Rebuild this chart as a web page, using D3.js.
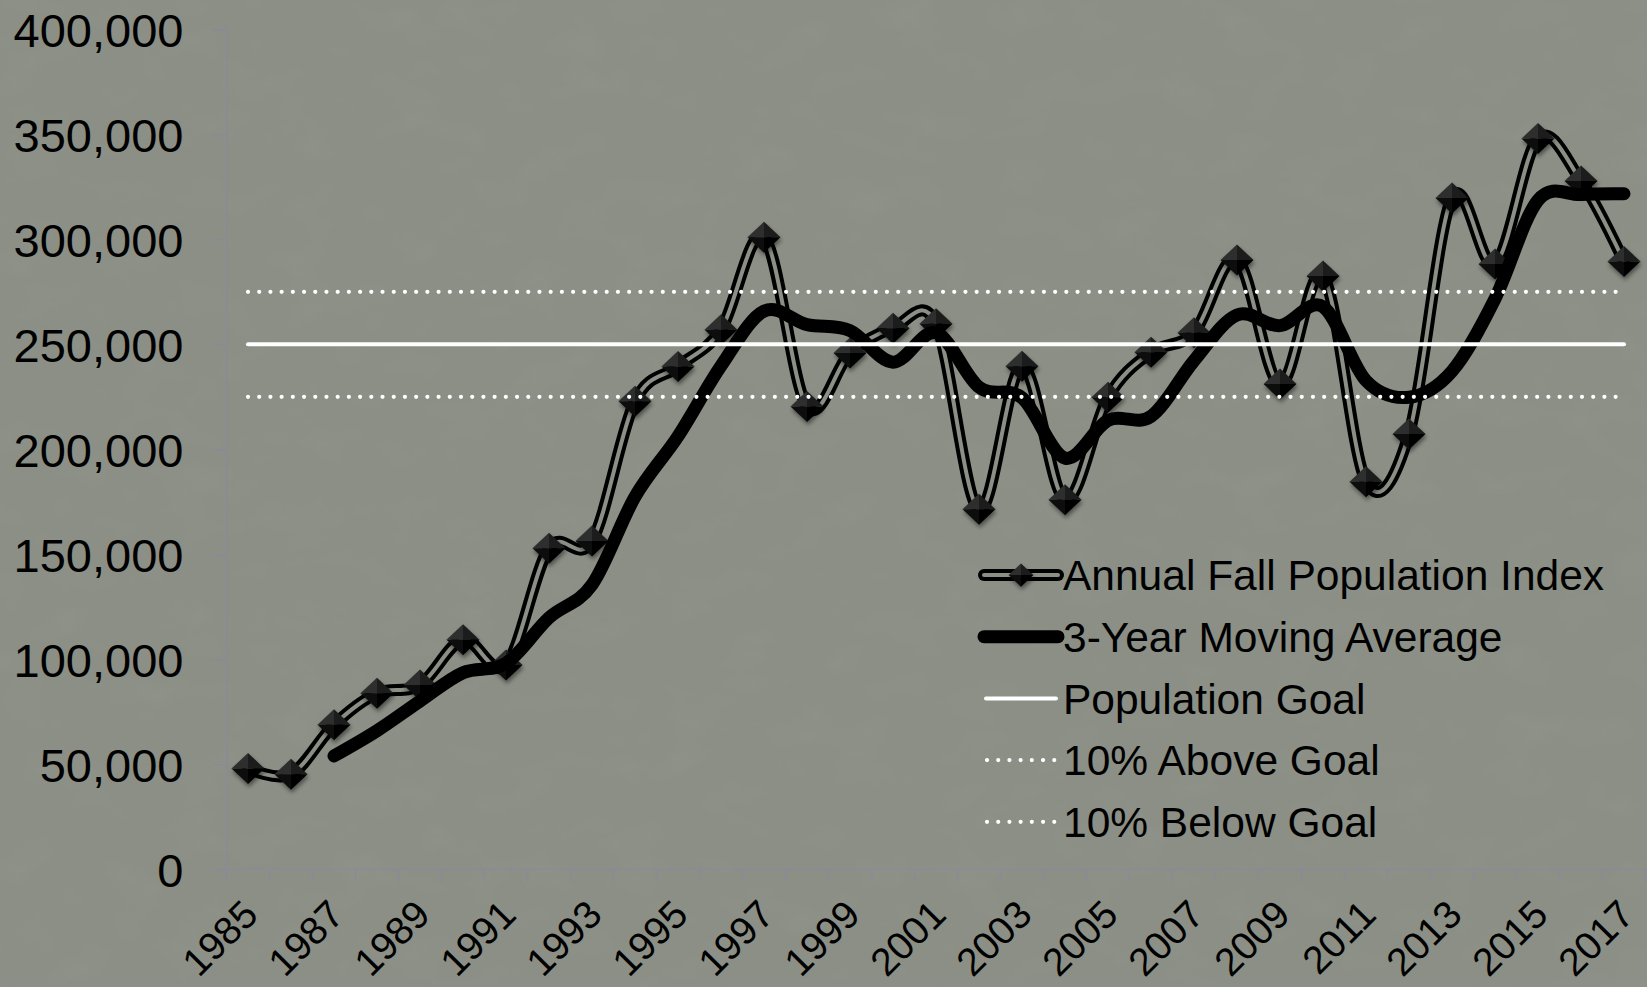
<!DOCTYPE html>
<html>
<head>
<meta charset="utf-8">
<title>Annual Fall Population Index</title>
<script src="https://d3js.org/d3.v7.min.js"></script>
<style>
  html, body { margin: 0; padding: 0; background: #8b8f85; overflow: hidden; }
  text { font-family: "Liberation Sans", Arial, sans-serif; fill: #000; }
</style>
</head>
<body>
<svg id="chart"></svg>
<script>
// data
const years = [1985, 1986, 1987, 1988, 1989, 1990, 1991, 1992, 1993, 1994, 1995,
  1996, 1997, 1998, 1999, 2000, 2001, 2002, 2003, 2004, 2005, 2006, 2007, 2008,
  2009, 2010, 2011, 2012, 2013, 2014, 2015, 2016, 2017];

const annualIndex = [48000, 45300, 68800, 83800, 87800, 109300, 97300, 152900,
  156300, 222900, 239400, 256900, 301000, 220400, 245900, 257700, 259800, 171400,
  239500, 176000, 224800, 246200, 255500, 290200, 231100, 282500, 184600, 207300,
  319700, 288200, 348000, 327800, 289400];

const movingAverage = [null, null, 54000, 66000, 80100, 93600, 98100, 119800,
  135500, 177400, 206200, 239700, 265800, 259400, 256500, 241500, 255500, 229600,
  224500, 195800, 213800, 215700, 242200, 264000, 258900, 267900, 232700, 224800,
  237200, 271700, 318600, 321300, 321700];

const populationGoal = 250000;
const aboveGoal = 275000;
const belowGoal = 225000;

const yTicks = [0, 50000, 100000, 150000, 200000, 250000, 300000, 350000, 400000];
const xLabelYears = [1985, 1987, 1989, 1991, 1993, 1995, 1997, 1999, 2001, 2003,
  2005, 2007, 2009, 2011, 2013, 2015, 2017];

const legendLabels = ["Annual Fall Population Index", "3-Year Moving Average",
  "Population Goal", "10% Above Goal", "10% Below Goal"];

const width = 1647;
const height = 987;
const bg = "#8b8f85";

const svg = d3.select("#chart")
  .attr("width", width)
  .attr("height", height);

const defs = svg.append("defs");

// mottled paper look for the background
const paper = defs.append("filter").attr("id", "paper")
  .attr("x", 0).attr("y", 0).attr("width", "100%").attr("height", "100%");
paper.append("feTurbulence")
  .attr("type", "fractalNoise")
  .attr("baseFrequency", "0.018 0.028")
  .attr("numOctaves", 4)
  .attr("seed", 7);
paper.append("feColorMatrix")
  .attr("type", "matrix")
  .attr("values", "0 0 0 0 0.30  0 0 0 0 0.32  0 0 0 0 0.28  1.8 0 0 0 -0.82");

const shadow = defs.append("filter").attr("id", "shadow")
  .attr("x", "-50%").attr("y", "-50%").attr("width", "200%").attr("height", "200%");
shadow.append("feDropShadow")
  .attr("dx", 1).attr("dy", 3).attr("stdDeviation", 2)
  .attr("flood-color", "#000").attr("flood-opacity", 0.45);

svg.append("rect")
  .attr("width", width).attr("height", height)
  .attr("fill", bg);
svg.append("rect")
  .attr("width", width).attr("height", height)
  .attr("filter", "url(#paper)")
  .attr("opacity", 0.35);

// scales
const x = d3.scaleBand().domain(years).range([226.5, 1645.5]);
const y = d3.scaleLinear().domain([0, 400000]).range([869.3, 29.3]);
const cx = yr => x(yr) + x.bandwidth() / 2;

const axisColor = "#8a8a98";

// y axis
const yAxis = svg.append("g")
  .attr("transform", "translate(226.5,0)")
  .call(d3.axisLeft(y)
    .tickValues(yTicks)
    .tickSize(14)
    .tickSizeOuter(0)
    .tickPadding(29)
    .tickFormat(d3.format(",")));
yAxis.select(".domain").attr("stroke", axisColor).attr("stroke-width", 1.5);
yAxis.selectAll(".tick line").attr("stroke", axisColor).attr("stroke-width", 1.5);
yAxis.selectAll(".tick text")
  .attr("font-family", "Liberation Sans, Arial, sans-serif")
  .attr("font-size", 47)
  .attr("fill", "#000")
  .attr("dy", "0.36em");

// x axis (category axis, ticks between categories)
const xAxis = svg.append("g");
xAxis.append("line")
  .attr("x1", 212).attr("x2", x.range()[1])
  .attr("y1", y(0)).attr("y2", y(0))
  .attr("stroke", axisColor).attr("stroke-width", 1.5);
xAxis.selectAll(".xtick")
  .data(years.map(x).concat([x.range()[1]]))
  .enter().append("line")
  .attr("x1", d => d).attr("x2", d => d)
  .attr("y1", y(0)).attr("y2", y(0) + 12)
  .attr("stroke", axisColor).attr("stroke-width", 1.5);
xAxis.selectAll(".xlabel")
  .data(xLabelYears)
  .enter().append("text")
  .attr("transform", d => `translate(${cx(d) + 12},${917}) rotate(-45)`)
  .attr("text-anchor", "end")
  .attr("font-size", 39)
  .text(d => d);

// smoothed lines
const line = d3.line()
  .defined(d => d.v != null)
  .x(d => cx(d.year))
  .y(d => y(d.v))
  .curve(d3.curveCatmullRom.alpha(0));

const annualData = years.map((yr, i) => ({ year: yr, v: annualIndex[i] }));
const avgData = years.map((yr, i) => ({ year: yr, v: movingAverage[i] }));

svg.append("path")
  .attr("d", line(annualData))
  .attr("fill", "none")
  .attr("stroke", "#000")
  .attr("stroke-width", 12)
  .attr("stroke-linejoin", "round")
  .attr("stroke-linecap", "round");
svg.append("path")
  .attr("d", line(annualData))
  .attr("fill", "none")
  .attr("stroke", bg)
  .attr("stroke-width", 4)
  .attr("stroke-linejoin", "round")
  .attr("stroke-linecap", "round");

// pyramid shaped diamond markers
function diamond(g, k) {
  k = k || 1;
  g.attr("filter", "url(#shadow)");
  const w = 16.5 * k, h = 15.5 * k;
  g.append("path").attr("d", `M${-w},0L0,${-h}L0,0Z`).attr("fill", "#2e2e2e");
  g.append("path").attr("d", `M0,${-h}L${w},0L0,0Z`).attr("fill", "#1c1c1c");
  g.append("path").attr("d", `M${-w},0L0,${h}L0,0Z`).attr("fill", "#0c0c0c");
  g.append("path").attr("d", `M${w},0L0,${h}L0,0Z`).attr("fill", "#020202");
}

svg.selectAll(".marker")
  .data(annualData)
  .enter().append("g")
  .attr("class", "marker")
  .attr("transform", d => `translate(${cx(d.year)},${y(d.v)})`)
  .each(function () { diamond(d3.select(this)); });

svg.append("path")
  .attr("d", line(avgData))
  .attr("fill", "none")
  .attr("stroke", "#000")
  .attr("stroke-width", 13)
  .attr("stroke-linejoin", "round")
  .attr("stroke-linecap", "round");

// goal lines
const x0 = cx(years[0]);
const x1 = cx(years[years.length - 1]);

svg.append("line")
  .attr("x1", x0).attr("x2", x1)
  .attr("y1", y(populationGoal)).attr("y2", y(populationGoal))
  .attr("stroke", "#fff").attr("stroke-width", 4)
  .attr("stroke-linecap", "round");

[aboveGoal, belowGoal].forEach(v => {
  svg.append("line")
    .attr("x1", x0).attr("x2", x1 - 4)
    .attr("y1", y(v)).attr("y2", y(v))
    .attr("stroke", "#fff").attr("stroke-width", 4.2)
    .attr("stroke-linecap", "round")
    .attr("stroke-dasharray", "0.01 11.2");
});

// legend
const legend = svg.append("g");
const legX0 = 984, legX1 = 1058, legText = 1063, legY = 575, legStep = 61.7;

legendLabels.forEach((label, i) => {
  const ly = legY + i * legStep;
  const row = legend.append("g");
  if (i === 0) {
    row.append("line").attr("x1", legX0).attr("x2", legX1).attr("y1", ly).attr("y2", ly)
      .attr("stroke", "#000").attr("stroke-width", 12).attr("stroke-linecap", "round");
    row.append("line").attr("x1", legX0).attr("x2", legX1).attr("y1", ly).attr("y2", ly)
      .attr("stroke", bg).attr("stroke-width", 4).attr("stroke-linecap", "round");
    diamond(row.append("g").attr("transform", `translate(${(legX0 + legX1) / 2},${ly})`), 0.75);
  } else if (i === 1) {
    row.append("line").attr("x1", legX0).attr("x2", legX1).attr("y1", ly).attr("y2", ly)
      .attr("stroke", "#000").attr("stroke-width", 13).attr("stroke-linecap", "round");
  } else if (i === 2) {
    row.append("line").attr("x1", legX0 + 2).attr("x2", legX1 - 2).attr("y1", ly).attr("y2", ly)
      .attr("stroke", "#fff").attr("stroke-width", 4).attr("stroke-linecap", "round");
  } else {
    row.append("line").attr("x1", legX0 + 3).attr("x2", legX1).attr("y1", ly).attr("y2", ly)
      .attr("stroke", "#fff").attr("stroke-width", 4.2).attr("stroke-linecap", "round")
      .attr("stroke-dasharray", "0.01 11.2");
  }
  row.append("text")
    .attr("x", legText).attr("y", ly)
    .attr("dy", "0.36em")
    .attr("font-size", 42.5)
    .text(label);
});
</script>
</body>
</html>
